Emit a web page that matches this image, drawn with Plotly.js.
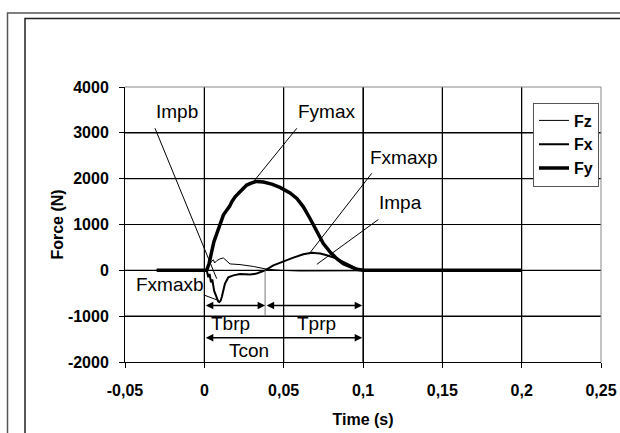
<!DOCTYPE html>
<html>
<head>
<meta charset="utf-8">
<script src="https://cdn.plot.ly/plotly-3.0.1.min.js"></script>
<style>html,body{margin:0;padding:0;background:#fff;}#chart{width:620px;height:433px;}</style>
</head>
<body>
<div id="chart"></div>
<script>
// ---- data ----
const seriesNames = ['Fz', 'Fx', 'Fy'];

const tFz = [-0.03, 0, 0.0015, 0.003, 0.0047, 0.0057, 0.0065, 0.0078, 0.0099, 0.012, 0.0141, 0.0162, 0.0225, 0.0309, 0.0393, 0.048, 0.06, 0.08, 0.1, 0.11, 0.2];
const Fz  = [0, 0, 20, 120, 200, 230, 160, 210, 250, 270, 200, 140, 125, 85, 25, 0, -15, -20, -10, 0, 0];

const tFx = [-0.03, 0, 0.0015, 0.0025, 0.0033, 0.0042, 0.005, 0.0062, 0.0078, 0.0088, 0.0095, 0.0103, 0.011, 0.012, 0.013, 0.0151, 0.0183, 0.0225, 0.0288, 0.033, 0.0383, 0.0435, 0.0498, 0.0561, 0.0624, 0.0677, 0.073, 0.0772, 0.0835, 0.0898, 0.0961, 0.1003, 0.12, 0.15, 0.2];
const Fx  = [0, 0, 0, -150, -80, -260, -200, -450, -620, -680, -693, -660, -584, -420, -292, -150, -110, -80, -90, -70, 0, 109, 197, 277, 350, 385, 365, 328, 255, 146, 37, 0, 0, 0, 0];

const tFy = [-0.03, 0, 0.0015, 0.003, 0.0041, 0.0053, 0.006, 0.0067, 0.0072, 0.0078, 0.0088, 0.0099, 0.011, 0.012, 0.0141, 0.016, 0.0173, 0.0194, 0.0225, 0.0267, 0.0299, 0.033, 0.0372, 0.0425, 0.0477, 0.054, 0.0583, 0.0624, 0.0666, 0.0709, 0.075, 0.0792, 0.0835, 0.0876, 0.0919, 0.0961, 0.1003, 0.12, 0.15, 0.2];
const Fy  = [0, 0, 0, 150, 291, 510, 620, 693, 760, 803, 900, 985, 1120, 1204, 1313, 1400, 1495, 1604, 1713, 1860, 1910, 1940, 1925, 1882, 1810, 1690, 1568, 1386, 1131, 839, 584, 401, 255, 146, 73, 22, 0, 0, 0, 0];

const xTickVals = [-0.05, 0, 0.05, 0.1, 0.15, 0.2, 0.25];
const xTickText = ['-0,05', '0', '0,05', '0,1', '0,15', '0,2', '0,25'];
const yTickVals = [-2000, -1000, 0, 1000, 2000, 3000, 4000];
const yTickText = ['-2000', '-1000', '0', '1000', '2000', '3000', '4000'];

const xTitle = 'Time (s)';
const yTitle = 'Force (N)';

// ---- layout helpers ----
const M = {l: 125, r: 19, t: 87, b: 71};
const W = 620, H = 433;
const PW = W - M.l - M.r, PH = H - M.t - M.b;
const px = x => (x - M.l) / PW;          // page px -> paper x
const py = y => 1 - (y - M.t) / PH;      // page px -> paper y

const FONT = 'Liberation Sans, Arial, sans-serif';
const GRID = 'rgb(0,0,0)';

const traces = [
  {x: tFz, y: Fz, name: seriesNames[0], mode: 'lines', line: {color: '#000', width: 1}, legendgroup: 'a'},
  {x: tFx, y: Fx, name: seriesNames[1], mode: 'lines', line: {color: '#000', width: 2}, legendgroup: 'b'},
  {x: tFy, y: Fy, name: seriesNames[2], mode: 'lines', line: {color: '#000', width: 3.5}, legendgroup: 'c'}
];

const txt = (text, x, y, xanchor) => ({
  text: text, x: x, y: y, xref: 'x', yref: 'y', xanchor: xanchor, yanchor: 'middle',
  showarrow: false, font: {family: FONT, size: 19, color: '#000'}
});
const dbl = (x0, x1, y) => ({
  text: '', x: x1, y: y, ax: x0, ay: y, xref: 'x', yref: 'y', axref: 'x', ayref: 'y',
  showarrow: true, arrowside: 'end+start', arrowhead: 2, startarrowhead: 2,
  arrowsize: 1, startarrowsize: 1, arrowwidth: 1.5, arrowcolor: '#000', standoff: 0, startstandoff: 0,
  font: {size: 1}
});
const seg = (x0, y0, x1, y1, color, width) => ({
  type: 'line', xref: 'x', yref: 'y', x0: x0, y0: y0, x1: x1, y1: y1,
  line: {color: color || '#000', width: width || 1}
});

// grid lines at the tick positions, drawn as data-referenced line shapes
const gridShapes = [];
for (let i = 1; i < xTickVals.length - 1; i++) {
  gridShapes.push(seg(xTickVals[i], yTickVals[0], xTickVals[i], yTickVals[yTickVals.length - 1], GRID, 1.2));
}
for (let j = 1; j < yTickVals.length - 1; j++) {
  gridShapes.push(seg(xTickVals[0], yTickVals[j], xTickVals[xTickVals.length - 1], yTickVals[j], GRID, 1.2));
}

const layout = {
  width: W, height: H,
  margin: M,
  paper_bgcolor: '#fff', plot_bgcolor: '#fff',
  showlegend: true,
  legend: {
    x: px(533), y: py(102.5), xanchor: 'left', yanchor: 'top',
    bgcolor: '#fff', bordercolor: '#555', borderwidth: 1,
    font: {family: FONT, size: 16, color: '#000', weight: 'bold'},
    tracegroupgap: 0, traceorder: 'grouped'
  },
  xaxis: {
    range: [xTickVals[0], xTickVals[xTickVals.length - 1]], tickvals: xTickVals, ticktext: xTickText,
    showgrid: true, gridcolor: GRID, gridwidth: 1, zeroline: false,
    showline: true, linecolor: '#000', linewidth: 1,
    ticks: 'outside', ticklen: 5, tickcolor: '#000', tickwidth: 1,
    ticklabelstandoff: 9,
    tickfont: {family: FONT, size: 16, color: '#000', weight: 'bold'},
    title: {text: xTitle, standoff: 15, font: {family: FONT, size: 16, color: '#000', weight: 'bold'}},
    fixedrange: true
  },
  yaxis: {
    range: [yTickVals[0], yTickVals[yTickVals.length - 1]], tickvals: yTickVals, ticktext: yTickText,
    showgrid: true, gridcolor: GRID, gridwidth: 1, zeroline: false,
    showline: true, linecolor: '#000', linewidth: 1,
    ticks: 'outside', ticklen: 5, tickcolor: '#000', tickwidth: 1,
    ticklabelstandoff: 7,
    tickfont: {family: FONT, size: 16, color: '#000', weight: 'bold'},
    title: {text: yTitle, standoff: 0, font: {family: FONT, size: 16, color: '#000', weight: 'bold'}},
    fixedrange: true
  },
  shapes: gridShapes.concat([
    // outer and inner frames of the picture
    {type: 'rect', xref: 'paper', yref: 'paper', x0: px(7.5), x1: px(800), y0: py(13), y1: py(600), line: {color: '#555', width: 1.5}, fillcolor: 'rgba(0,0,0,0)', layer: 'above'},
    {type: 'rect', xref: 'paper', yref: 'paper', x0: px(25), x1: px(800), y0: py(18.5), y1: py(600), line: {color: '#222', width: 1.5}, fillcolor: 'rgba(0,0,0,0)', layer: 'above'},
    // grey plot-area border on top and right
    {type: 'line', xref: 'paper', yref: 'paper', x0: 0, x1: 1, y0: 1, y1: 1, line: {color: '#888', width: 1}},
    {type: 'line', xref: 'paper', yref: 'paper', x0: 1, x1: 1, y0: 0, y1: 1, line: {color: '#888', width: 1}},
    // leader lines
    seg(-0.0311, 3100, 0.0078, -182),
    seg(0.0583, 3100, 0.0309, 1932),
    seg(0.1055, 2116, 0.067, 401),
    seg(0.1097, 1109, 0.0709, 131),
    seg(0.0004, -547, 0.0088, -656),
    // boundary of braking phase
    seg(0.0383, 0, 0.0383, -985, '#777')
  ]),
  annotations: [
    txt('Impb', -0.0315, 3464, 'left'),
    txt('Fymax', 0.058, 3464, 'left'),
    txt('Fxmaxp', 0.103, 2466, 'left'),
    txt('Impa', 0.109, 1473, 'left'),
    txt('Fxmaxb', 0.0008, -300, 'right'),
    txt('Tbrp', 0.0162, -1153, 'center'),
    txt('Tprp', 0.0709, -1153, 'center'),
    txt('Tcon', 0.0279, -1750, 'center'),
    dbl(0, 0.0383, -766),
    dbl(0.0383, 0.0995, -766),
    dbl(0, 0.0995, -1473)
  ]
};

Plotly.newPlot('chart', traces, layout, {staticPlot: true, displayModeBar: false});
</script>
</body>
</html>
